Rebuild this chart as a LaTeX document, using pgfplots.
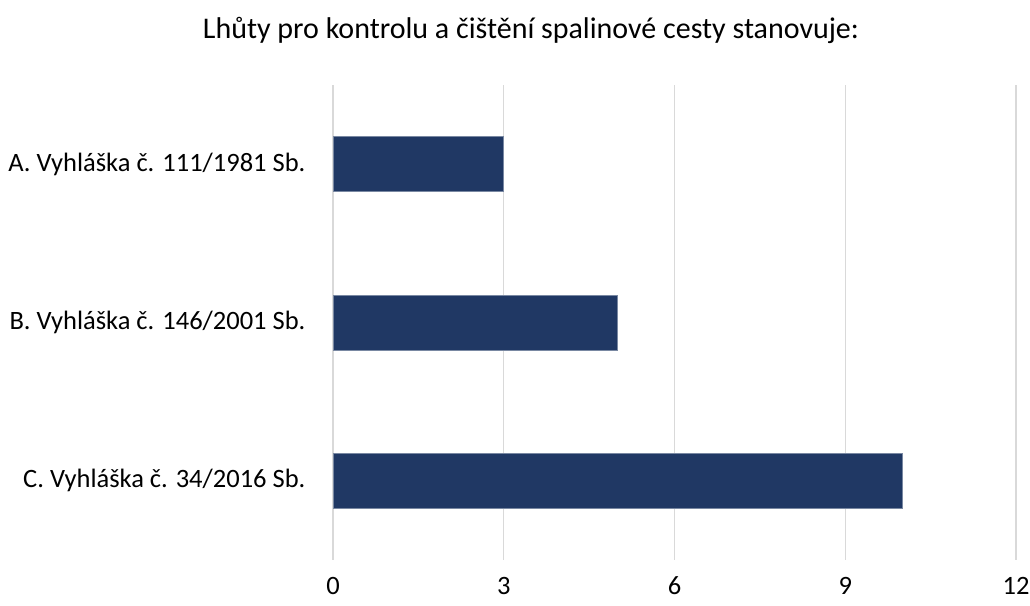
\documentclass[border=0pt]{standalone}
\usepackage{pgfplots}
\pgfplotsset{compat=1.18}
\usepackage{fontspec}
\setmainfont{Carlito}
\definecolor{barblue}{HTML}{203864}
\definecolor{gridgray}{HTML}{D9D9D9}
\begin{document}
\begin{tikzpicture}
\useasboundingbox (0,0) rectangle (1030pt,605pt);
\begin{axis}[
  at={(333pt,45pt)}, anchor=south west,
  scale only axis,
  width=683pt, height=475pt,
  xmin=0, xmax=12,
  ymin=-0.5, ymax=2.5,
  y dir=reverse,
  xtick={0,3,6,9,12},
  ytick={0,1,2},
  yticklabels={A. Vyhláška č. 111/1981 Sb., B. Vyhláška č. 146/2001 Sb., C. Vyhláška č. 34/2016 Sb.},
  axis line style={draw=none},
  major tick length=0pt,
  xmajorgrids,
  major grid style={draw=gridgray, line width=1.2pt},
  tick label style={font=\fontsize{26.5}{31}\selectfont},
  /pgf/number format/assume math mode=true,
  xticklabel style={anchor=base, yshift=-34pt},
  yticklabel style={xshift=-24pt},
  xbar, bar width=55pt,
]
\addplot[fill=barblue, draw=barblue!60!white, line width=0.6pt] coordinates {(3,0) (5,1) (10,2)};
\end{axis}
\node[font=\fontsize{30}{36}\selectfont] at (531pt,575pt) {Lhůty pro kontrolu a čištění spalinové cesty stanovuje:};
\end{tikzpicture}
\end{document}
